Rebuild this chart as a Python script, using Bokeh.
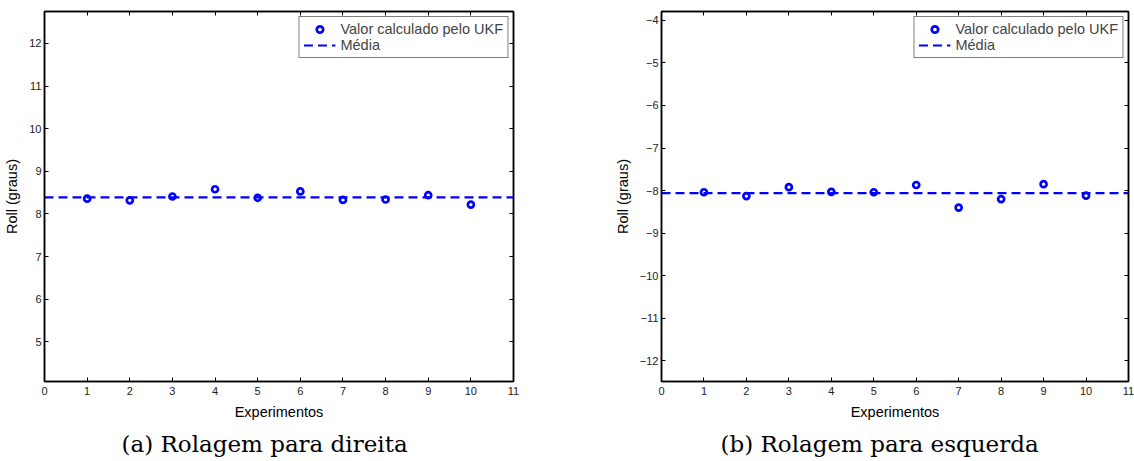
from bokeh.plotting import figure
from bokeh.models import (LinearAxis, FixedTicker, Range1d, Title, Legend, LegendItem,
                          CustomJSTickFormatter)
from bokeh.layouts import row
from bokeh.embed import file_html
from bokeh.resources import INLINE
import numpy as np

# ---- data ----
experiments = [1, 2, 3, 4, 5, 6, 7, 8, 9, 10]
roll_direita = [8.36, 8.32, 8.41, 8.58, 8.38, 8.53, 8.33, 8.34, 8.44, 8.22]
roll_esquerda = [-8.04, -8.13, -7.92, -8.03, -8.04, -7.87, -8.40, -8.20, -7.85, -8.12]
x_ticks = [0, 1, 2, 3, 4, 5, 6, 7, 8, 9, 10, 11]
y_ticks_direita = [5, 6, 7, 8, 9, 10, 11, 12]
y_ticks_esquerda = [-12, -11, -10, -9, -8, -7, -6, -5, -4]
x_limits = (0, 11)
y_limits_direita = (4.07, 12.75)
y_limits_esquerda = (-12.49, -3.79)
captions = ["(a) Rolagem para direita", "(b) Rolagem para esquerda"]
legend_labels = ["Valor calculado pelo UKF", "Média"]
x_label = "Experimentos"
y_label = "Roll (graus)"

BLUE = "#0000ff"
SANS = "Liberation Sans"


def make_fig(values, yticks, ylim, caption, b_left, f_width, b_right, cap_offset):
    p = figure(frame_width=f_width, frame_height=370,
               min_border_left=b_left, min_border_right=b_right,
               min_border_top=11, min_border_bottom=80,
               x_range=Range1d(*x_limits), y_range=Range1d(*ylim),
               output_backend="svg", toolbar_location=None,
               background_fill_color="white", border_fill_color="white")
    p.grid.visible = False
    p.outline_line_color = "black"
    p.outline_line_width = 1.5

    mean_val = float(np.mean(values))
    r_pts = p.scatter(experiments, values, marker="circle", size=6,
                      fill_color=None, line_color=BLUE, line_width=2.7)
    r_mean = p.line(list(x_limits), [mean_val, mean_val], line_color=BLUE,
                    line_width=2.2, line_dash="9 5")

    p.xaxis.ticker = FixedTicker(ticks=x_ticks)
    p.yaxis.ticker = FixedTicker(ticks=yticks)
    p.yaxis.major_label_overrides = {t: str(t).replace("-", "\u2212") for t in yticks}
    for ax in (p.xaxis[0], p.yaxis[0]):
        ax.major_tick_in = 4
        ax.major_tick_out = 0
        ax.minor_tick_line_color = None
        ax.axis_line_color = "black"
        ax.axis_line_width = 1.5
        ax.major_tick_line_color = "black"
        ax.major_label_text_font = SANS
        ax.major_label_text_font_size = "11px"
        ax.major_label_text_color = "#222222"
        ax.axis_label_text_font = SANS
        ax.axis_label_text_font_size = "14.5px"
        ax.axis_label_text_font_style = "normal"
        ax.axis_label_text_color = "black"
    p.xaxis.axis_label = x_label
    p.yaxis.axis_label = y_label
    p.xaxis.major_label_standoff = 5
    p.xaxis.axis_label_standoff = 6
    p.yaxis.major_label_standoff = 3
    p.yaxis.axis_label_standoff = 6

    blank = CustomJSTickFormatter(code="return ''")
    top = LinearAxis(ticker=FixedTicker(ticks=x_ticks), formatter=blank,
                     major_label_standoff=0, major_tick_in=4, major_tick_out=0,
                     minor_tick_line_color=None, axis_line_color="black", axis_line_width=1.5)
    right = LinearAxis(ticker=FixedTicker(ticks=yticks), formatter=blank,
                       major_label_standoff=0, major_tick_in=4, major_tick_out=0,
                       minor_tick_line_color=None, axis_line_color="black", axis_line_width=1.5)
    p.add_layout(top, "above")
    p.add_layout(right, "right")

    legend = Legend(items=[LegendItem(label=legend_labels[0], renderers=[r_pts]),
                           LegendItem(label=legend_labels[1], renderers=[r_mean])],
                    location="top_right", margin=5, padding=4, spacing=0,
                    glyph_width=32, glyph_height=16, label_height=16, label_standoff=5,
                    label_text_font=SANS, label_text_font_size="14.5px",
                    border_line_color="black", border_line_width=1.2,
                    background_fill_color="white", background_fill_alpha=1.0)
    p.add_layout(legend, "center")

    cap = Title(text=caption, align="left", offset=cap_offset, standoff=12,
                text_font="DejaVu Serif", text_font_size="23px",
                text_font_style="normal", text_color="black")
    p.add_layout(cap, "below")
    return p


p1 = make_fig(roll_direita, y_ticks_direita, y_limits_direita, captions[0], 44, 469, 54, 77)
p2 = make_fig(roll_esquerda, y_ticks_esquerda, y_limits_esquerda, captions[1], 94, 467, 6, 59)

layout = row(p1, p2)
open("out.html", "w").write(file_html(layout, INLINE))
